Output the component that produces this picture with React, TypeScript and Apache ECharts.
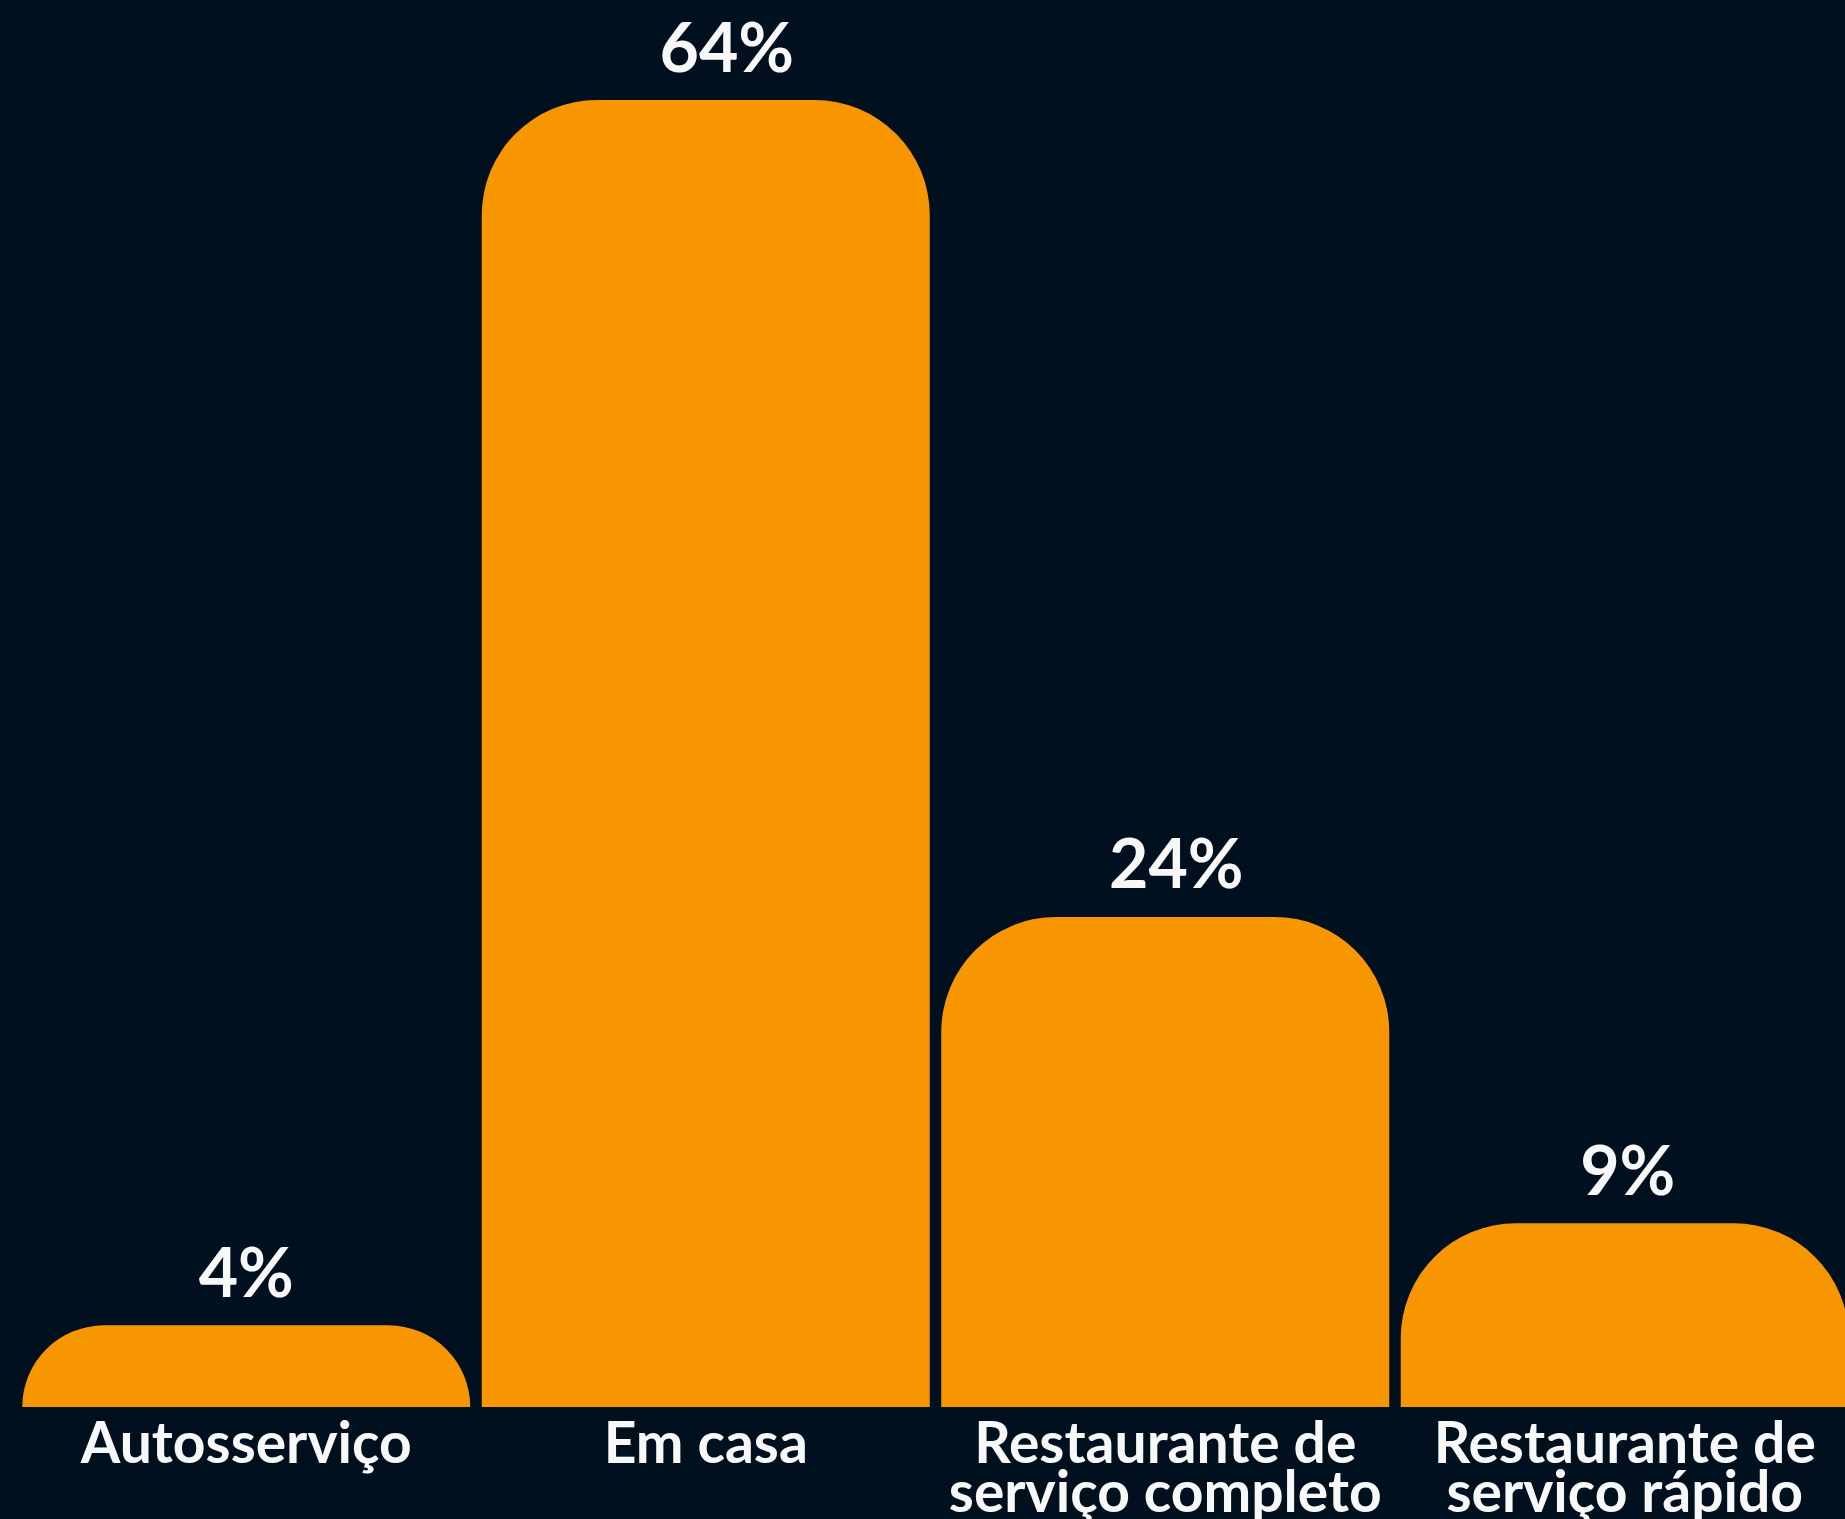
import React, { useEffect, useRef } from "react";
import * as echarts from "echarts";

const categories = [
  "Autosserviço",
  "Em casa",
  "Restaurante de\nserviço completo",
  "Restaurante de\nserviço rápido",
];
const values = [4, 64, 24, 9];
const labelOffsetsX = [0, 21, 11, 3];

const BG = "#01101F";
const ORANGE = "#F79600";
const TEXT = "#F8F8F8";
const FONT = "Lato";

export default function App() {
  const ref = useRef<HTMLDivElement>(null);
  useEffect(() => {
    if (!ref.current) return;
    const chart = echarts.init(ref.current, undefined, { renderer: "svg" });
    chart.setOption({
      animation: false,
      backgroundColor: BG,
      grid: { left: 16.5, right: 1.5, top: 18.4, bottom: 112, containLabel: false },
      xAxis: {
        type: "category",
        data: categories,
        axisLine: { show: false },
        axisTick: { show: false },
        axisLabel: {
          color: TEXT,
          fontFamily: FONT,
          fontWeight: "bold",
          fontSize: 57,
          lineHeight: 49,
          margin: 9,
          interval: 0,
        },
      },
      yAxis: {
        type: "value",
        min: 0,
        max: 68,
        show: false,
        splitLine: { show: false },
      },
      series: [
        {
          type: "bar",
          data: values.map((v, i) => ({
            value: v,
            label: { offset: [labelOffsetsX[i], 0] },
          })),
          barWidth: 448,
          barCategoryGap: "2.5%",
          itemStyle: { color: ORANGE, borderRadius: [115, 115, 0, 0] },
          label: {
            show: true,
            position: "top",
            distance: 21,
            formatter: "{c}%",
            color: TEXT,
            fontFamily: FONT,
            fontWeight: "bold",
            fontSize: 68,
            lineHeight: 68,
          },
        },
      ],
    });
    return () => chart.dispose();
  }, []);
  return (
    <div
      style={{
        position: "absolute",
        left: 0,
        top: 0,
        width: 1845,
        height: 1519,
        overflow: "hidden",
        background: BG,
      }}
    >
      <div ref={ref} style={{ width: 1856, height: 1519 }} />
    </div>
  );
}
